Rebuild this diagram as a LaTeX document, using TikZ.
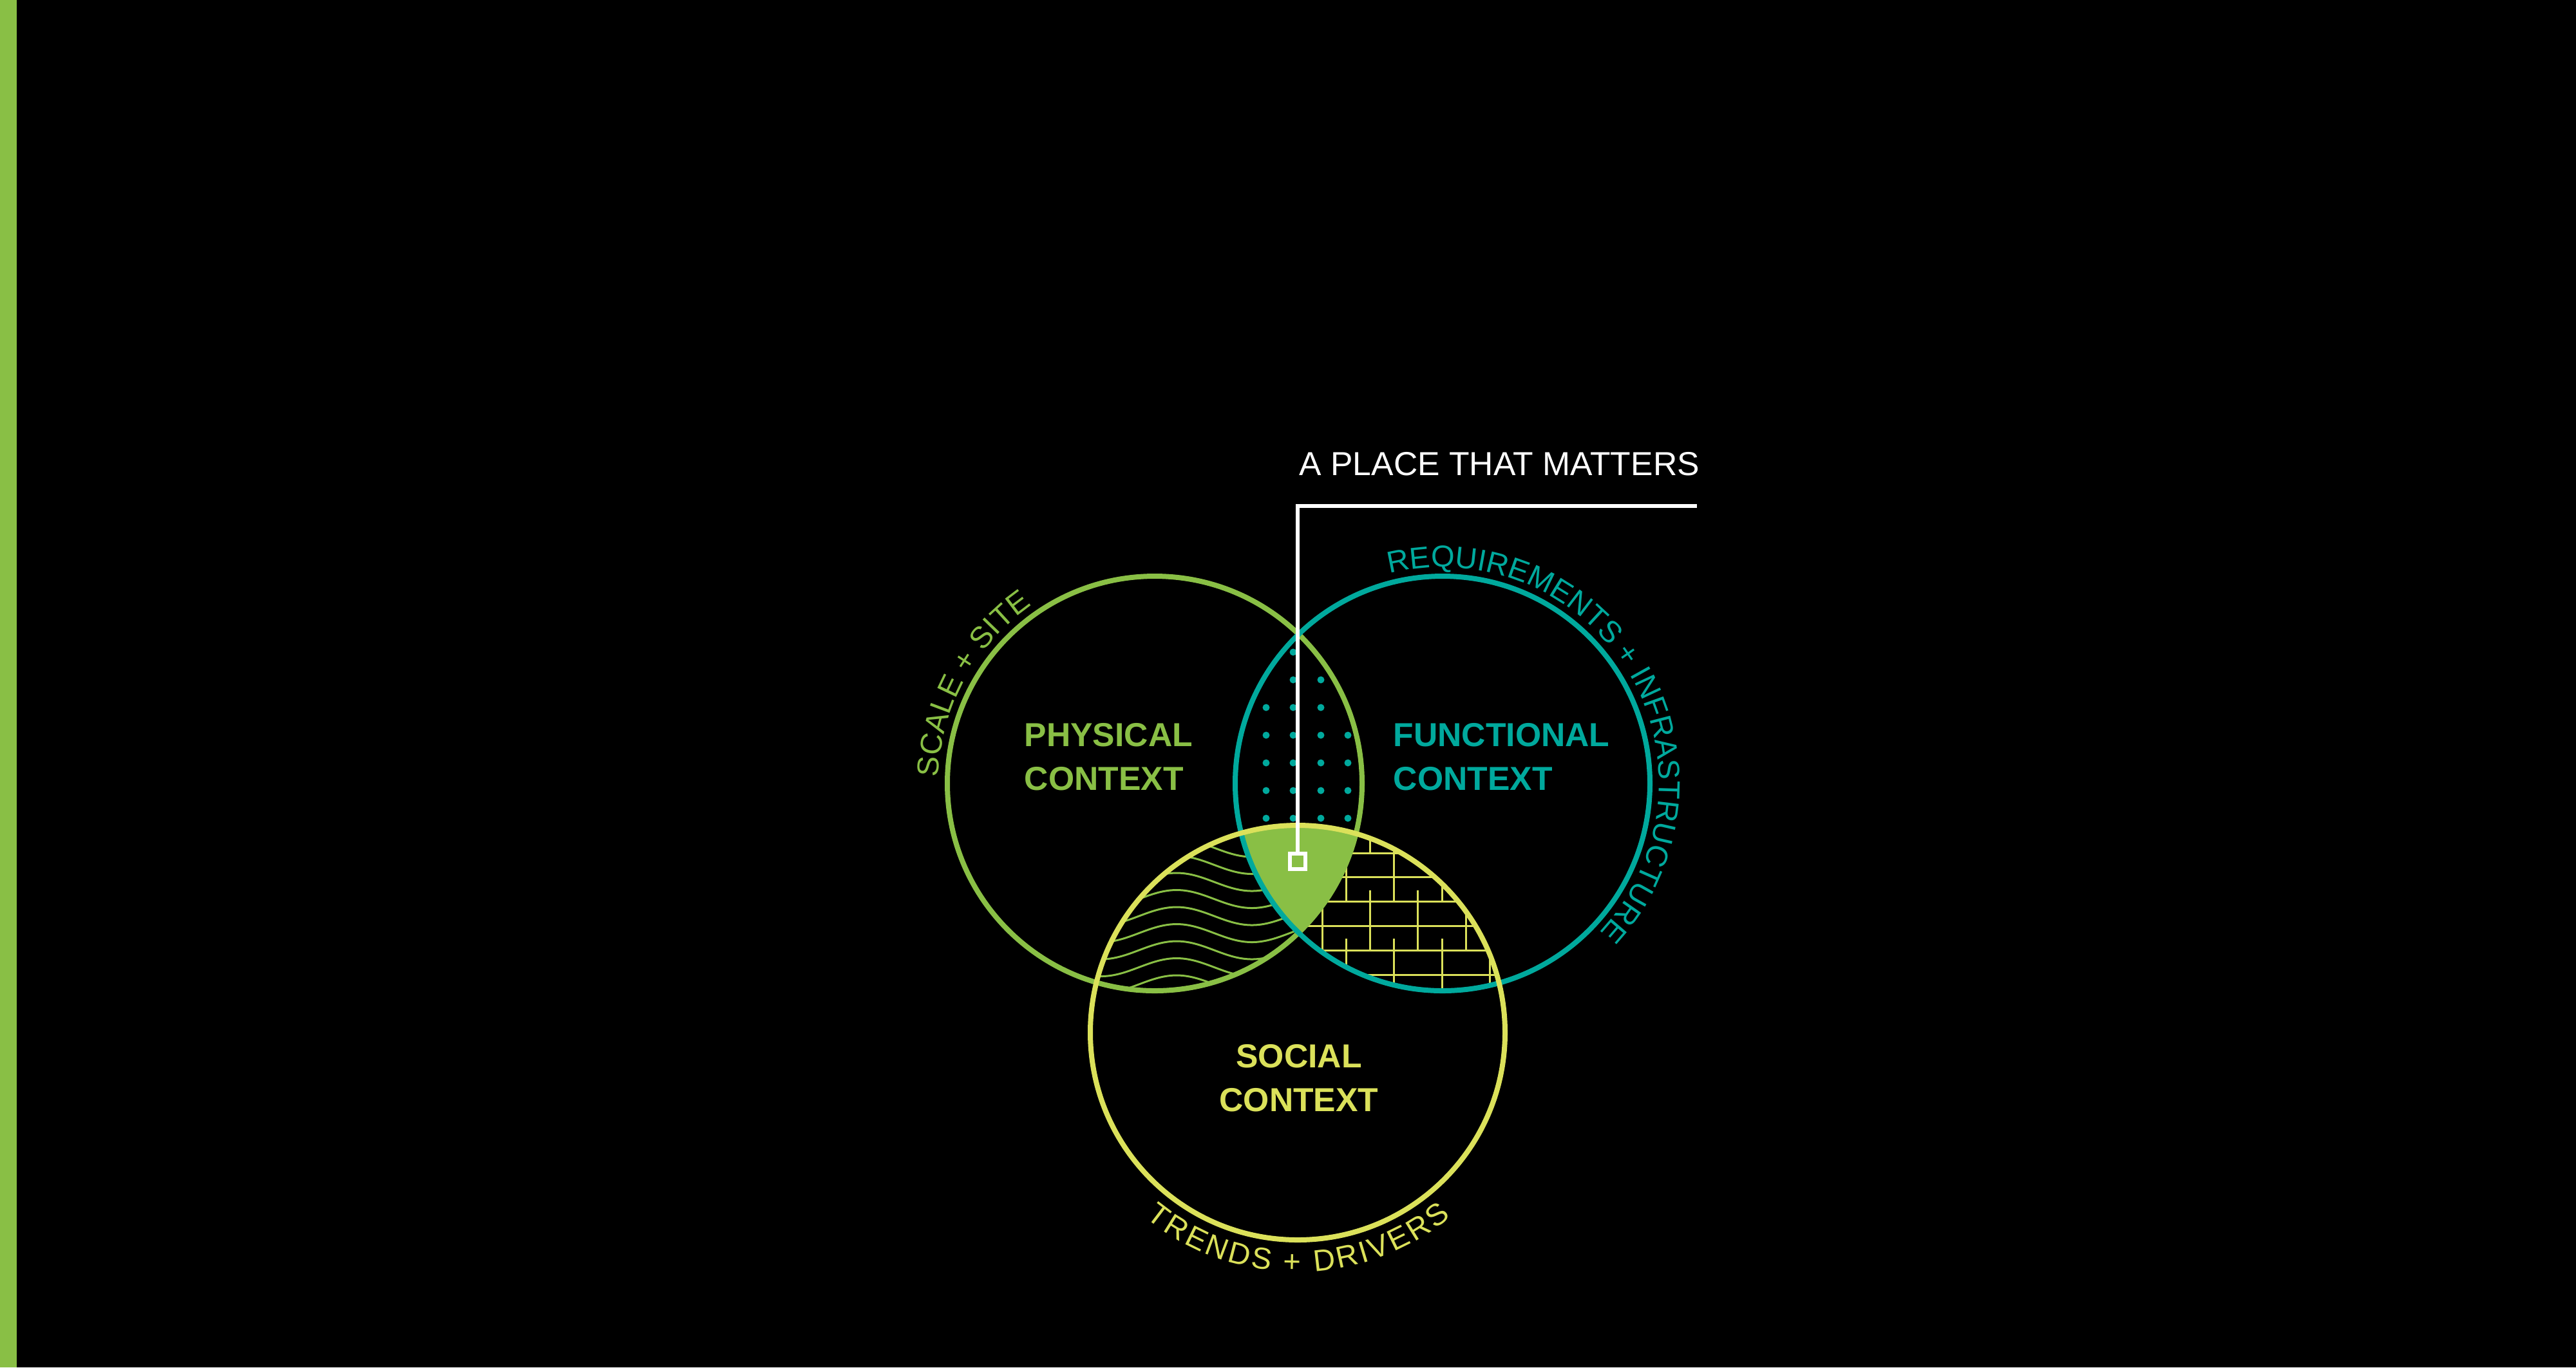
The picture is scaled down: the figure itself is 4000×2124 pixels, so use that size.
\documentclass[tikz,border=0pt]{standalone}
\usepackage{fontspec}
\setmainfont{Liberation Sans}
\usepackage{tikz}
\usetikzlibrary{decorations.text}
\definecolor{ctxgreen}{HTML}{89BF45}
\definecolor{ctxteal}{HTML}{00A99D}
\definecolor{ctxyellow}{HTML}{DBE15A}
\newcommand{\arcfont}{\fontsize{13.4}{16}\selectfont}

\begin{document}
\begin{tikzpicture}[x=0.1mm, y=0.1mm,
    ring/.style={draw, circle, line width=0.8mm, minimum size=64.4mm, inner sep=0pt},
    ctx/.style={font=\bfseries\fontsize{14.7}{19.3}\selectfont, align=left,
                anchor=base west, inner sep=0pt},
    wave/.style={ctxgreen, line width=0.3mm},
    brick/.style={ctxyellow, line width=0.3mm},
    speck/.style={fill=ctxteal},
    leader/.style={white, line width=0.6mm, line join=miter},
    arclabel/.style={decorate, decoration={text along path, text align=fit to path}},
]
\useasboundingbox (0,0) rectangle (4000,-2124);
\fill[black] (0,0) rectangle (4000,-2124);
\fill[ctxgreen] (0,0) rectangle (26,-2124);

% circle centres
\coordinate (cg) at (1793,-1217);
\coordinate (ct) at (2240,-1217);
\coordinate (cy) at (2015,-1604);

% waves: physical + social
\begin{scope}
  \clip (cg) circle[radius=322];
  \clip (cy) circle[radius=322];
  \foreach \k in {0,...,8} {
    \pgfmathsetmacro\yk{1303+26.5*\k}
    \draw[wave] plot[domain=1640:2010, samples=80, smooth]
      (\x, {-(\yk + 14 - 14*cos((\x-1827)/234*360))});
  }
\end{scope}

% bricks: functional + social
\begin{scope}
  \clip (ct) circle[radius=322];
  \clip (cy) circle[radius=322];
  \foreach \n in {-2,...,6}
    \draw[brick] (1990,{-(1325+37.8*\n)}) -- (2400,{-(1325+37.8*\n)});
  \foreach \j in {-2,...,9} {
    \foreach \m in {-1,0,1} {
      \pgfmathsetmacro\bx{2053.3+37.15*\j}
      \pgfmathsetmacro\by{1382.7-75.6*mod(abs(\j),2)+151.2*\m}
      \draw[brick] (\bx,-\by) -- (\bx,{-(\by+94.5)});
    }
  }
\end{scope}

% dots: physical + functional
\foreach \p in {(2008,-1013),(2008,-1056),(2051,-1056),(1966,-1099),(2008,-1099),(2051,-1099)}
  \fill[speck] \p circle[radius=5.5];
\foreach \yy in {1142,1185,1228,1271}
  \foreach \xx in {1966,2008,2051,2093}
    \fill[speck] (\xx,-\yy) circle[radius=5.5];

% the place that matters
\begin{scope}
  \clip (cg) circle[radius=322];
  \clip (ct) circle[radius=322];
  \fill[ctxgreen] (cy) circle[radius=322];
\end{scope}

% rings
\node[ring, ctxgreen] (phys) at (cg) {};
\node[ring, ctxteal] (func) at (ct) {};
\node[ring, ctxyellow] (soc) at (cy) {};

% leader to the title
\node[draw=white, line width=0.6mm, minimum size=2.4mm, inner sep=0pt] (spot) at (2015,-1338) {};
\coordinate (bend) at (2015,-786);
\coordinate (tail) at (2635,-786);
\draw[leader] (spot.north) -- (bend) -- (tail);
\node[font=\fontsize{14.7}{17}\selectfont, text=white, anchor=base west, inner sep=0pt]
  (title) at (2017,-738) {A PLACE THAT MATTERS};

% labels (anchored on the second line)
\node[ctx, text=ctxgreen] (physlbl) at (1590,-1227) {PHYSICAL\\CONTEXT};
\node[ctx, text=ctxteal] (funclbl) at (2163,-1227) {FUNCTIONAL\\CONTEXT};
\node[ctx, text=ctxyellow, align=center, anchor=base] (soclbl) at (2017,-1726) {SOCIAL\\CONTEXT};

% curved labels
\path[arclabel, decoration={text={|\arcfont|SCALE + SITE}, text color=ctxgreen}]
  (cg) ++(178.3:336) arc[start angle=178.3, end angle=124.5, radius=336];
\path[arclabel, decoration={text={|\arcfont|REQUIREMENTS + INFRASTRUCTURE}, text color=ctxteal}]
  (ct) ++(104.2:336) arc[start angle=104.2, end angle=-43.4, radius=336];
\path[arclabel, decoration={text={|\arcfont|TRENDS + DRIVERS}, text color=ctxyellow}]
  (cy) ++(230.6:372) arc[start angle=230.6, end angle=309.8, radius=372];

\end{tikzpicture}
\end{document}
